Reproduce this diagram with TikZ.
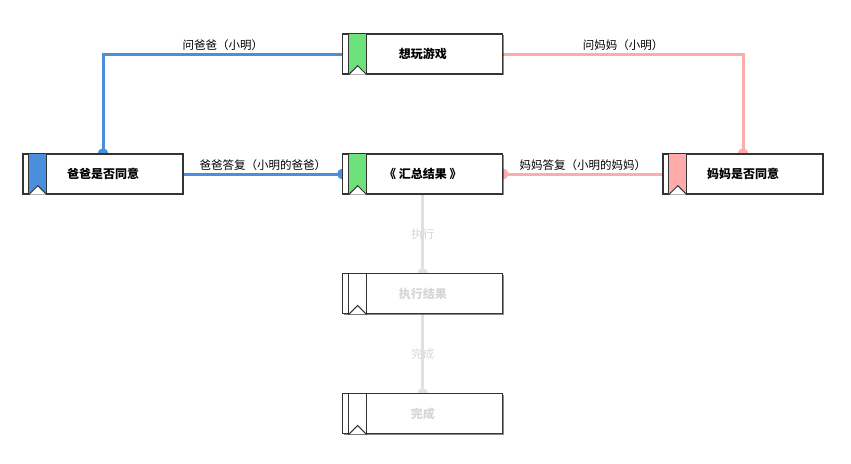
\documentclass[tikz,border=0pt]{standalone}
\usepackage{fontspec}
\setmainfont{Noto Sans CJK SC}
\usetikzlibrary{shadows}
\definecolor{cblue}{HTML}{4A8FDB}
\definecolor{cpink}{HTML}{FFABAB}
\definecolor{cgreen}{HTML}{6DE27A}
\definecolor{cgrayline}{HTML}{E0E0E0}
\definecolor{cgraytext}{HTML}{D6D6D6}
\definecolor{cborder}{HTML}{333333}
\tikzset{
  box/.style={rectangle, minimum width=160pt, minimum height=40pt, inner sep=0pt,
    draw=cborder, line width=1.3pt, fill=white,
    drop shadow={shadow xshift=1.2pt, shadow yshift=-1.2pt, fill=black, opacity=0.45},
    font=\fontsize{12pt}{14pt}\selectfont\bfseries},
  slot/.style={rectangle, minimum width=160pt, minimum height=40pt, inner sep=0pt},
  conn/.style={line width=3pt},
  lbl/.style={font=\fontsize{11.5pt}{13pt}\selectfont, text=black, inner sep=2pt},
  dot/.style={radius=5.5pt}
}
\newcommand{\ribbon}[2]{%
  \filldraw[fill=#2, draw=cborder, line width=1pt] ([xshift=6.5pt]#1.north west) rectangle ([xshift=24.5pt]#1.south west);
  \filldraw[fill=white, draw=cborder, line width=1pt] ([xshift=6.5pt]#1.south west) -- ([xshift=15.5pt,yshift=9pt]#1.south west) -- ([xshift=24.5pt]#1.south west);
}
\begin{document}
\begin{tikzpicture}[x=1pt,y=-1pt]
\useasboundingbox (0,0) rectangle (851,463);
\node[slot] (top) at (422.8,54) {};
\node[slot] (dad) at (103,174) {};
\node[slot] (sum) at (422.8,174) {};
\node[slot] (mom) at (743,174) {};
\node[slot] (exec) at (422.8,293.8) {};
\node[slot] (done) at (422.8,413.8) {};

\draw[conn, cblue] (top.west) -| node[lbl, pos=0.25, above] {问爸爸（小明）} (dad.north);
\fill[cblue] (dad.north) circle[dot];
\draw[conn, cpink] (top.east) -| node[lbl, pos=0.25, above] {问妈妈（小明）} (mom.north);
\fill[cpink] (mom.north) circle[dot];
\draw[conn, cblue] (dad.east) -- node[lbl, midway, above] {爸爸答复（小明的爸爸）} (sum.west);
\fill[cblue] (sum.west) circle[dot];
\draw[conn, cpink] (mom.west) -- node[lbl, midway, above] {妈妈答复（小明的妈妈）} (sum.east);
\fill[cpink] (sum.east) circle[dot];
\draw[conn, cgrayline] (sum.south) -- node[lbl, midway, text=cgraytext] {执行} (exec.north);
\fill[cgrayline] (exec.north) circle[dot];
\draw[conn, cgrayline] (exec.south) -- node[lbl, midway, text=cgraytext] {完成} (done.north);
\fill[cgrayline] (done.north) circle[dot];

\node[box] (topb) at (top) {想玩游戏};
\ribbon{topb}{cgreen}
\node[box] (dadb) at (dad) {爸爸是否同意};
\ribbon{dadb}{cblue}
\node[box] (sumb) at (sum) {《 汇总结果 》};
\ribbon{sumb}{cgreen}
\node[box] (momb) at (mom) {妈妈是否同意};
\ribbon{momb}{cpink}
\node[box, text=cgraytext] (execb) at (exec) {执行结果};
\ribbon{execb}{white}
\node[box, text=cgraytext] (doneb) at (done) {完成};
\ribbon{doneb}{white}
\end{tikzpicture}
\end{document}
